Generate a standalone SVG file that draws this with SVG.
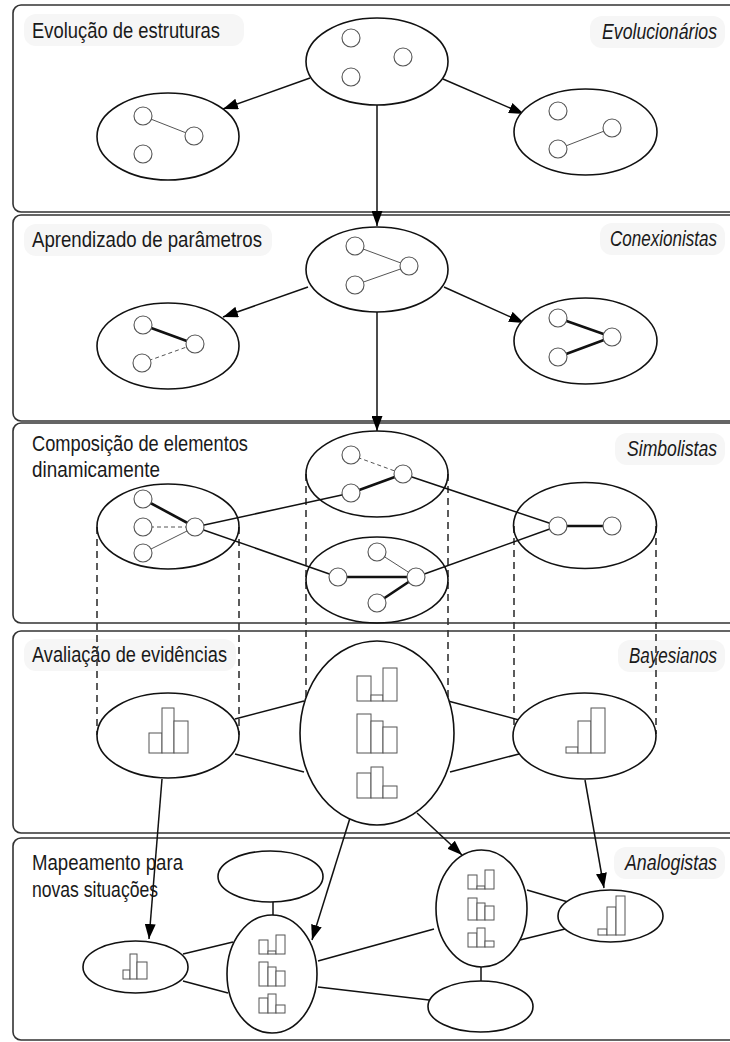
<svg xmlns="http://www.w3.org/2000/svg" width="730" height="1042" viewBox="0 0 730 1042">
<defs>
<marker id="ah" markerUnits="userSpaceOnUse" markerWidth="15" markerHeight="11" refX="15" refY="5.5" orient="auto"><path d="M0,0 L15,5.5 L0,11 z" fill="#000"/></marker>
<style>
.panel{fill:#fff;stroke:#333;stroke-width:1.6}
.lblbg{fill:#f6f6f6}
.t{font-family:"Liberation Sans",Arial,sans-serif;font-size:22.5px;fill:#1a1a1a}
.ti{font-family:"Liberation Sans",Arial,sans-serif;font-size:22.5px;font-style:italic;fill:#1a1a1a;text-anchor:end}
.el{fill:#fff;stroke:#111;stroke-width:1.6}
.c{fill:#fff;stroke:#555;stroke-width:1.1}
.thin{stroke:#555;stroke-width:1}
.thick{stroke:#111;stroke-width:2.6}
.dsh{stroke:#555;stroke-width:1;stroke-dasharray:4,3}
.edge{stroke:#111;stroke-width:1.5;fill:none}
.arr{stroke:#111;stroke-width:1.5;fill:none;marker-end:url(#ah)}
.vd{stroke:#333;stroke-width:1.6;stroke-dasharray:7,5;fill:none}
.bar{fill:#fff;stroke:#555;stroke-width:1}
</style>
</defs>

<g id="panels">
<path class="panel" d="M730,5 H21 A8,8 0 0 0 13,13 V204 A8,8 0 0 0 21,212 H730"/>
<path class="panel" d="M730,215 H21 A8,8 0 0 0 13,223 V413 A8,8 0 0 0 21,421 H730"/>
<path class="panel" d="M730,423 H21 A8,8 0 0 0 13,431 V615 A8,8 0 0 0 21,623 H730"/>
<path class="panel" d="M730,631 H21 A8,8 0 0 0 13,639 V825 A8,8 0 0 0 21,833 H730"/>
<path class="panel" d="M730,838 H21 A8,8 0 0 0 13,846 V1032 A8,8 0 0 0 21,1040 H730"/>
</g>

<g id="label-bgs">
<rect class="lblbg" x="24" y="14" width="220" height="32" rx="12"/>
<rect class="lblbg" x="590" y="16" width="135" height="32" rx="12"/>
<rect class="lblbg" x="24" y="224" width="248" height="32" rx="12"/>
<rect class="lblbg" x="600" y="223" width="125" height="32" rx="12"/>
<rect class="lblbg" x="615" y="433" width="110" height="32" rx="12"/>
<rect class="lblbg" x="24" y="639" width="212" height="32" rx="12"/>
<rect class="lblbg" x="618" y="640" width="107" height="32" rx="12"/>
<rect class="lblbg" x="614" y="847" width="111" height="32" rx="12"/>
</g>

<g id="labels" transform="scale(0.8,1)">
<text class="t" x="40" y="38" textLength="235" lengthAdjust="spacingAndGlyphs">Evolução de estruturas</text>
<text class="ti" x="896.25" y="39" textLength="143.75" lengthAdjust="spacingAndGlyphs">Evolucionários</text>
<text class="t" x="40" y="247" textLength="287.5" lengthAdjust="spacingAndGlyphs">Aprendizado de parâmetros</text>
<text class="ti" x="896.25" y="246" textLength="133.75" lengthAdjust="spacingAndGlyphs">Conexionistas</text>
<text class="t" x="40" y="451" textLength="270" lengthAdjust="spacingAndGlyphs">Composição de elementos</text>
<text class="t" x="40" y="477" textLength="160" lengthAdjust="spacingAndGlyphs">dinamicamente</text>
<text class="ti" x="896.25" y="456" textLength="112.5" lengthAdjust="spacingAndGlyphs">Simbolistas</text>
<text class="t" x="40" y="662" textLength="243.75" lengthAdjust="spacingAndGlyphs">Avaliação de evidências</text>
<text class="ti" x="896.25" y="663" textLength="110" lengthAdjust="spacingAndGlyphs">Bayesianos</text>
<text class="t" x="40" y="870" textLength="188.75" lengthAdjust="spacingAndGlyphs">Mapeamento para</text>
<text class="t" x="40" y="897" textLength="157.5" lengthAdjust="spacingAndGlyphs">novas situações</text>
<text class="ti" x="896.25" y="870" textLength="115" lengthAdjust="spacingAndGlyphs">Analogistas</text>
</g>

<g id="connectors">
<line class="arr" x1="310" y1="78" x2="223" y2="109"/>
<line class="arr" x1="443" y1="79" x2="524" y2="114"/>
<line class="arr" x1="377" y1="105" x2="377" y2="226"/>
<line class="arr" x1="308" y1="287" x2="223" y2="317"/>
<line class="arr" x1="444" y1="287" x2="524" y2="323"/>
<line class="arr" x1="377" y1="312" x2="377" y2="431"/>
<line class="vd" x1="97" y1="527" x2="97" y2="735"/>
<line class="vd" x1="239" y1="527" x2="239" y2="735"/>
<line class="vd" x1="306" y1="474" x2="306" y2="700"/>
<line class="vd" x1="448" y1="474" x2="448" y2="700"/>
<line class="vd" x1="514" y1="526" x2="514" y2="728"/>
<line class="vd" x1="656" y1="526" x2="656" y2="734"/>
<line class="edge" x1="195" y1="527" x2="351" y2="493"/>
<line class="edge" x1="195" y1="527" x2="338" y2="577"/>
<line class="edge" x1="403" y1="474" x2="558" y2="526"/>
<line class="edge" x1="416" y1="577" x2="558" y2="526"/>
<line class="edge" x1="235" y1="719" x2="304" y2="701"/>
<line class="edge" x1="235" y1="754" x2="304" y2="772"/>
<line class="edge" x1="448" y1="701" x2="519" y2="720"/>
<line class="edge" x1="450" y1="772" x2="519" y2="754"/>
<line class="arr" x1="162" y1="779" x2="149" y2="939"/>
<line class="arr" x1="350" y1="818" x2="312" y2="940"/>
<line class="arr" x1="417" y1="813" x2="462" y2="855"/>
<line class="arr" x1="585" y1="780" x2="604" y2="888"/>
<line class="edge" x1="273" y1="902" x2="273" y2="915"/>
<line class="edge" x1="183" y1="954" x2="233" y2="942"/>
<line class="edge" x1="183" y1="981" x2="228" y2="993"/>
<line class="edge" x1="318" y1="961" x2="434" y2="929"/>
<line class="edge" x1="318" y1="987" x2="429" y2="1000"/>
<line class="edge" x1="527" y1="890" x2="568" y2="902"/>
<line class="edge" x1="520" y1="940" x2="565" y2="929"/>
<line class="edge" x1="481" y1="967" x2="481" y2="981"/>
</g>

<g id="evo-top">
<ellipse class="el" cx="377" cy="61.5" rx="71" ry="43.5"/>
<circle class="c" cx="351" cy="38" r="9"/>
<circle class="c" cx="403" cy="57" r="9"/>
<circle class="c" cx="351" cy="77" r="9"/>
</g>
<g id="evo-left">
<ellipse class="el" cx="168" cy="136.5" rx="71" ry="43.5"/>
<line class="thin" x1="143" y1="116" x2="194" y2="136"/>
<circle class="c" cx="143" cy="116" r="9"/>
<circle class="c" cx="194" cy="136" r="9"/>
<circle class="c" cx="143" cy="154" r="9"/>
</g>
<g id="evo-right">
<ellipse class="el" cx="585.5" cy="132" rx="71.5" ry="43"/>
<line class="thin" x1="558" y1="149" x2="612" y2="128"/>
<circle class="c" cx="558" cy="111" r="9"/>
<circle class="c" cx="612" cy="128" r="9"/>
<circle class="c" cx="558" cy="149" r="9"/>
</g>

<g id="con-top">
<ellipse class="el" cx="377" cy="269.5" rx="71" ry="42.5"/>
<line class="thin" x1="355" y1="246" x2="409" y2="266"/>
<line class="thin" x1="355" y1="285" x2="409" y2="266"/>
<circle class="c" cx="355" cy="246" r="9"/>
<circle class="c" cx="409" cy="266" r="9"/>
<circle class="c" cx="355" cy="285" r="9"/>
</g>
<g id="con-left">
<ellipse class="el" cx="168" cy="346" rx="71" ry="43"/>
<line class="thick" x1="143" y1="325" x2="195" y2="344"/>
<line class="dsh" x1="142" y1="363" x2="195" y2="344"/>
<circle class="c" cx="143" cy="325" r="9"/>
<circle class="c" cx="195" cy="344" r="9"/>
<circle class="c" cx="142" cy="363" r="9"/>
</g>
<g id="con-right">
<ellipse class="el" cx="585.5" cy="341" rx="71.5" ry="43"/>
<line class="thick" x1="558" y1="318" x2="612" y2="337"/>
<line class="thick" x1="558" y1="357" x2="612" y2="337"/>
<circle class="c" cx="558" cy="318" r="9"/>
<circle class="c" cx="612" cy="337" r="9"/>
<circle class="c" cx="558" cy="357" r="9"/>
</g>

<g id="sym-top">
<ellipse class="el" cx="377" cy="474" rx="71" ry="43" style="fill:none"/>
<line class="dsh" x1="351" y1="455" x2="403" y2="474"/>
<line class="thick" x1="351" y1="493" x2="403" y2="474"/>
<circle class="c" cx="351" cy="455" r="9"/>
<circle class="c" cx="403" cy="474" r="9"/>
<circle class="c" cx="351" cy="493" r="9"/>
</g>
<g id="sym-bottom">
<ellipse class="el" cx="377" cy="580" rx="71" ry="43" style="fill:none"/>
<line class="thick" x1="338" y1="577" x2="416" y2="577"/>
<line class="thin" x1="377" y1="552" x2="416" y2="577"/>
<line class="thick" x1="377" y1="603" x2="416" y2="577"/>
<circle class="c" cx="377" cy="552" r="9"/>
<circle class="c" cx="338" cy="577" r="9"/>
<circle class="c" cx="416" cy="577" r="9"/>
<circle class="c" cx="377" cy="603" r="9"/>
</g>
<g id="sym-left">
<ellipse class="el" cx="168" cy="526.5" rx="71" ry="42.5" style="fill:none"/>
<line class="thick" x1="143" y1="499" x2="195" y2="527"/>
<line class="dsh" x1="143" y1="527" x2="195" y2="527"/>
<line class="thin" x1="143" y1="553" x2="195" y2="527"/>
<circle class="c" cx="143" cy="499" r="9"/>
<circle class="c" cx="143" cy="527" r="9"/>
<circle class="c" cx="143" cy="553" r="9"/>
<circle class="c" cx="195" cy="527" r="9"/>
</g>
<g id="sym-right">
<ellipse class="el" cx="585" cy="525.5" rx="71.5" ry="43" style="fill:none"/>
<line class="thick" x1="558" y1="526" x2="612" y2="526"/>
<circle class="c" cx="558" cy="526" r="9"/>
<circle class="c" cx="612" cy="526" r="9"/>
</g>

<g id="bay-left">
<ellipse class="el" cx="168" cy="735.5" rx="71" ry="42.5"/>
<rect class="bar" x="149" y="733" width="13" height="20"/>
<rect class="bar" x="162" y="708" width="12" height="45"/>
<rect class="bar" x="174" y="721" width="14" height="32"/>
</g>
<g id="bay-center">
<ellipse class="el" cx="377" cy="733" rx="77" ry="92"/>
<rect class="bar" x="357" y="676" width="14" height="25"/>
<rect class="bar" x="371" y="695" width="12" height="6"/>
<rect class="bar" x="383" y="668" width="14" height="33"/>
<rect class="bar" x="357" y="714" width="14" height="39"/>
<rect class="bar" x="371" y="721" width="12" height="32"/>
<rect class="bar" x="383" y="727" width="14" height="26"/>
<rect class="bar" x="357" y="773" width="14" height="25"/>
<rect class="bar" x="371" y="767" width="12" height="31"/>
<rect class="bar" x="383" y="786" width="14" height="12"/>
</g>
<g id="bay-right">
<ellipse class="el" cx="584.5" cy="736" rx="71.5" ry="43"/>
<rect class="bar" x="566" y="747" width="12" height="6"/>
<rect class="bar" x="578" y="721" width="13" height="32"/>
<rect class="bar" x="591" y="708" width="14" height="45"/>
</g>

<g id="ana-top">
<ellipse class="el" cx="270.5" cy="876.5" rx="52.5" ry="25.5"/>
</g>
<g id="ana-left">
<ellipse class="el" cx="135.5" cy="967" rx="52.5" ry="26"/>
<rect class="bar" x="123" y="970" width="7" height="9"/>
<rect class="bar" x="130" y="954" width="7" height="25"/>
<rect class="bar" x="137" y="962" width="10" height="17"/>
</g>
<g id="ana-mid">
<ellipse class="el" cx="272" cy="974" rx="45" ry="59"/>
<rect class="bar" x="259" y="940" width="9" height="14"/>
<rect class="bar" x="268" y="951" width="8" height="3"/>
<rect class="bar" x="276" y="935" width="9" height="19"/>
<rect class="bar" x="259" y="962" width="9" height="24"/>
<rect class="bar" x="268" y="967" width="8" height="19"/>
<rect class="bar" x="276" y="971" width="9" height="15"/>
<rect class="bar" x="259" y="998" width="9" height="15"/>
<rect class="bar" x="268" y="994" width="8" height="19"/>
<rect class="bar" x="276" y="1005" width="9" height="8"/>
</g>
<g id="ana-rc">
<ellipse class="el" cx="481.5" cy="908.5" rx="45.5" ry="58.5"/>
<rect class="bar" x="468" y="875" width="9" height="14"/>
<rect class="bar" x="477" y="886" width="8" height="3"/>
<rect class="bar" x="485" y="870" width="9" height="19"/>
<rect class="bar" x="468" y="898" width="9" height="22"/>
<rect class="bar" x="477" y="903" width="8" height="17"/>
<rect class="bar" x="485" y="906" width="9" height="14"/>
<rect class="bar" x="468" y="933" width="9" height="14"/>
<rect class="bar" x="477" y="928" width="8" height="19"/>
<rect class="bar" x="485" y="941" width="9" height="6"/>
</g>
<g id="ana-right">
<ellipse class="el" cx="610.5" cy="916" rx="52.5" ry="26"/>
<rect class="bar" x="598" y="929" width="9" height="6"/>
<rect class="bar" x="607" y="907" width="9" height="28"/>
<rect class="bar" x="616" y="896" width="9" height="39"/>
</g>
<g id="ana-bottom">
<ellipse class="el" cx="480.5" cy="1006.5" rx="52.5" ry="25.5"/>
</g>
</svg>
